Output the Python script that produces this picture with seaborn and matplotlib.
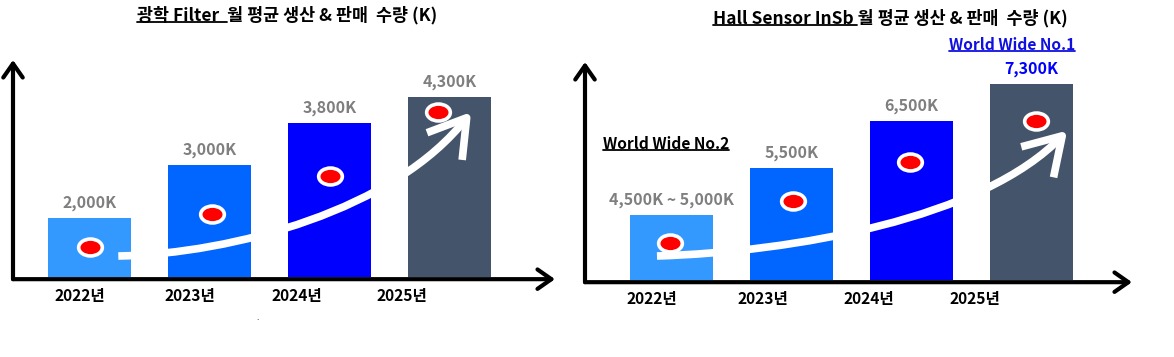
import matplotlib
matplotlib.use("Agg")
import matplotlib.pyplot as plt
import seaborn as sns
from matplotlib.path import Path
from matplotlib.transforms import Affine2D
from matplotlib.patches import FancyArrowPatch
from matplotlib.lines import Line2D

# --- data ---
years = ["2022년", "2023년", "2024년", "2025년"]

filter_values = [2000, 3000, 3800, 4300]
filter_labels = ["2,000K", "3,000K", "3,800K", "4,300K"]

hall_values = [4500, 5500, 6500, 7300]
hall_labels = ["4,500K ~ 5,000K", "5,500K", "6,500K", "7,300K"]

bar_colors = ["#3399FF", "#0066FF", "#0000FF", "#44546A"]

# --- decoration (dots and trend arrow), in data units of each panel ---
filter_dot_dx = [0.0, 0.02, 0.0, -0.1]
filter_dot_y = [1444, 2070, 2791, 4006]
filter_curve = [(0.24, 1273), (1.2, 1321), (2.55, 2150), (3.18, 4006)]

hall_dot_dx = [-0.01, 0.01, -0.01, 0.04]
hall_dot_y = [3890, 4790, 5630, 6500]
hall_curve = [(-0.12, 3614), (1.0, 3700), (2.6, 4400), (3.30, 6300)]

W, H = 1174, 357
FONT = ["Noto Sans CJK KR", "DejaVu Sans"]

sns.set_theme(style="white")
plt.rcParams["font.family"] = FONT

fig = plt.figure(figsize=(W / 100, H / 100), dpi=100)


def px_axes(left, top, right, bottom):
    return fig.add_axes([left / W, 1 - bottom / H, (right - left) / W, (bottom - top) / H])


ellipse = Path.unit_circle().transformed(Affine2D().scale(1.4, 1.0))


def draw_panel(ax, values, labels, label_colors, xlim, ylim, tick_pos,
               dot_dx, dot_y, curve):
    sns.barplot(x=years, y=values, hue=years, palette=bar_colors, legend=False,
                width=0.69, saturation=1, linewidth=0, ax=ax)

    for i, (v, lab) in enumerate(zip(values, labels)):
        ax.annotate(lab, (i, v), xytext=(0, 5), textcoords="offset points",
                    ha="center", va="bottom", fontsize=11.5, fontweight="bold",
                    color=label_colors[i], annotation_clip=False)

    # white trend arrow
    codes = [Path.MOVETO, Path.CURVE4, Path.CURVE4, Path.CURVE4]
    arrow = FancyArrowPatch(path=Path(curve, codes),
                            arrowstyle="->,head_length=1.3,head_width=0.8",
                            mutation_scale=20, color="white", lw=5.5,
                            capstyle="butt", zorder=3,
                            transform=ax.transData)
    ax.add_patch(arrow)

    xs = [i + d for i, d in enumerate(dot_dx)]
    ax.scatter(xs, dot_y, marker=ellipse, s=290, color="#FF0000",
               edgecolor="white", linewidth=2.6, zorder=5)

    ax.set_xlim(*xlim)
    ax.set_ylim(*ylim)
    ax.set_xticks(tick_pos, years)
    ax.tick_params(axis="x", length=0, pad=8)
    for t in ax.get_xticklabels():
        t.set_fontsize(11.2)
        t.set_fontweight("bold")
        t.set_color("black")
    ax.set_yticks([])
    ax.set_xlabel("")
    ax.set_ylabel("")
    sns.despine(ax=ax, left=True, bottom=True)
    ax.patch.set_alpha(0)

    # axis arrows
    ap = dict(arrowstyle="->,head_length=0.5,head_width=0.35", mutation_scale=20,
              lw=3, color="black", shrinkA=0, shrinkB=0)
    ax.annotate("", xy=(0, 1), xytext=(0, -0.01), xycoords="axes fraction",
                arrowprops=ap, annotation_clip=False)
    ax.annotate("", xy=(1, -0.01), xytext=(0, -0.01), xycoords="axes fraction",
                arrowprops=ap, annotation_clip=False)


ax1 = px_axes(13, 60, 555, 277)
draw_panel(ax1, filter_values, filter_labels, ["#7F7F7F"] * 4,
           (-0.6375, 3.879), (875, 4993), [-0.08, 0.84, 1.73, 2.60],
           filter_dot_dx, filter_dot_y, filter_curve)

ax2 = px_axes(585, 62, 1132, 280)
draw_panel(ax2, hall_values, hall_labels, ["#7F7F7F"] * 3 + ["#0000FF"],
           (-0.72, 3.84), (3100, 7768), [-0.16, 0.76, 1.65, 2.53],
           hall_dot_dx, hall_dot_y, hall_curve)

# titles and notes
title_kw = dict(fontsize=12.5, fontweight="bold", color="black", ha="center", va="center")
t1 = fig.text(287 / W, 1 - 15 / H, "광학 Filter  월 평균 생산 & 판매  수량 (K)", **title_kw)
t2 = fig.text(890 / W, 1 - 18 / H, "Hall Sensor InSb 월 평균 생산 & 판매  수량 (K)", **title_kw)
w2 = fig.text(603 / W, 1 - 144 / H, "World Wide No.2", fontsize=11.2,
              fontweight="bold", color="black", ha="left", va="center")
w1 = fig.text(1012 / W, 1 - 45 / H, "World Wide No.1", fontsize=11.2,
              fontweight="bold", color="#1010E0", ha="center", va="center")
fig.text(258 / W, 1 - 320 / H, ".", fontsize=6, color="black", ha="center")

fig.canvas.draw()
renderer = fig.canvas.get_renderer()


def underline(t, prefix=None, color="black", lw=1.3):
    bb = t.get_window_extent(renderer)
    x0, x1 = bb.x0, bb.x1
    if prefix is not None:
        tmp = fig.text(0, 0, prefix + ".", fontproperties=t.get_fontproperties())
        dot = fig.text(0, 0, ".", fontproperties=t.get_fontproperties())
        x1 = x0 + tmp.get_window_extent(renderer).width - dot.get_window_extent(renderer).width
        tmp.remove()
        dot.remove()
    y = bb.y0 + 0.1 * bb.height
    fig.add_artist(Line2D([x0 / W, x1 / W], [y / H, y / H], color=color, lw=lw,
                          transform=fig.transFigure))


underline(t1, "광학 Filter  ")
underline(t2, "Hall Sensor InSb ")
underline(w2)
underline(w1, color="#1010E0")

fig.savefig("out.png", dpi=100)
